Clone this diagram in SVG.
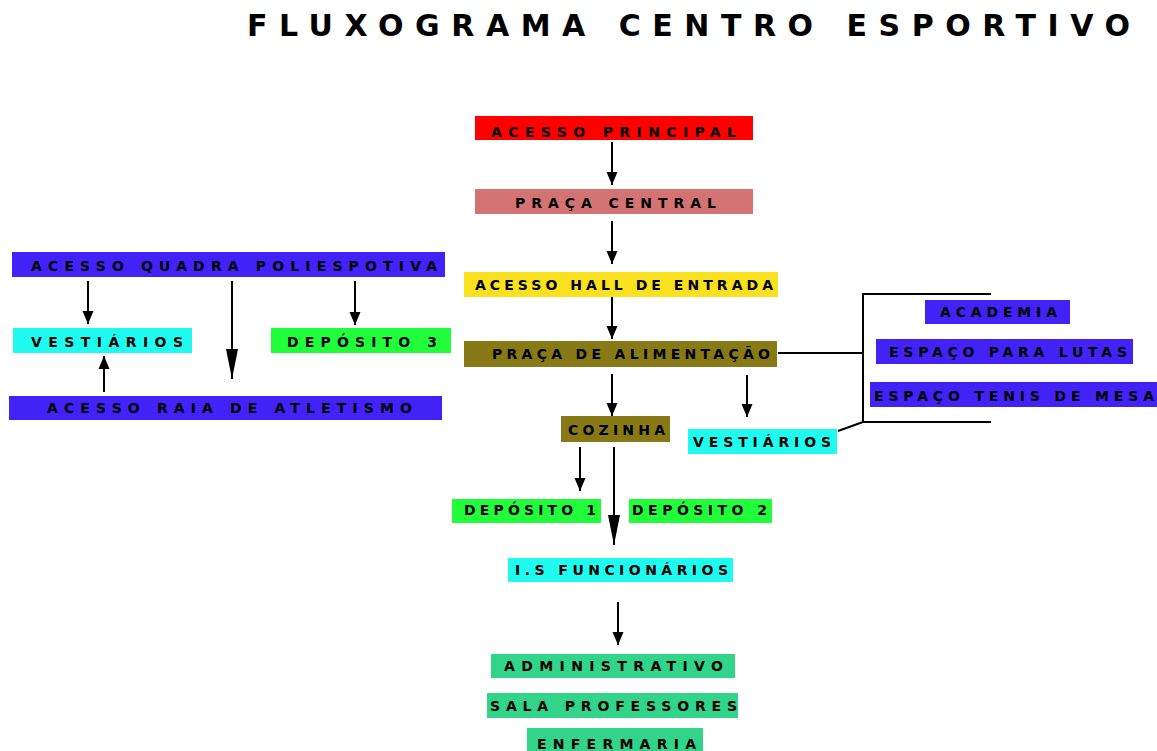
<svg xmlns="http://www.w3.org/2000/svg" width="1157" height="751" viewBox="0 0 1157 751">
<style>
.t{font-family:"DejaVu Sans","Verdana",sans-serif;font-weight:bold;font-size:14px;fill:#000}
.title{font-family:"DejaVu Sans","Verdana",sans-serif;font-weight:bold;font-size:30px;fill:#000}
.c{stroke:#000;stroke-width:2;fill:none}
.red{fill:#ff0000}.rose{fill:#d47373}.yel{fill:#f9e11f}.olv{fill:#877916}
.blu{fill:#4322f8}.cyn{fill:#20fbef}.grn{fill:#22fd3b}.tea{fill:#32d48a}
</style>
<defs>
<marker id="a" markerUnits="userSpaceOnUse" markerWidth="14" markerHeight="12" refX="13" refY="6" orient="auto" viewBox="0 0 14 12">
<path d="M0,0.5 L13,6 L0,11.5 z" fill="#000"/>
</marker>
<marker id="b" markerUnits="userSpaceOnUse" markerWidth="31" markerHeight="14" refX="30" refY="7" orient="auto" viewBox="0 0 31 14">
<path d="M0,1 L30,7 L0,13 z" fill="#000"/>
</marker>
</defs>
<text class="title" x="247" y="36" textLength="883" lengthAdjust="spacing">FLUXOGRAMA CENTRO ESPORTIVO</text>
<g id="connectors">
<path class="c" d="M612,142 V185" marker-end="url(#a)"/>
<path class="c" d="M612,221 V264" marker-end="url(#a)"/>
<path class="c" d="M612,297 V339" marker-end="url(#a)"/>
<path class="c" d="M612,374 V416" marker-end="url(#a)"/>
<path class="c" d="M747,375 V417" marker-end="url(#a)"/>
<path class="c" d="M580,447 V491" marker-end="url(#a)"/>
<path class="c" d="M614,447 V545" marker-end="url(#b)"/>
<path class="c" d="M618,602 V645" marker-end="url(#a)"/>
<path class="c" d="M88,281 V324" marker-end="url(#a)"/>
<path class="c" d="M232,281 V379" marker-end="url(#b)"/>
<path class="c" d="M355,281 V325" marker-end="url(#a)"/>
<path class="c" d="M104,392 V356" marker-end="url(#a)"/>
<path class="c" stroke-width="3" d="M778,353 H863"/>
<path class="c" stroke-width="3" d="M991,294 H863 V422 H991"/>
<path class="c" d="M838,431 L863,422"/>
</g>
<g id="acesso-principal"><rect class="red" x="475" y="116" width="278" height="24"/><text class="t" x="491" y="137" textLength="245" lengthAdjust="spacing">ACESSO PRINCIPAL</text></g>
<g id="praca-central"><rect class="rose" x="475" y="189" width="278" height="25"/><text class="t" x="515" y="208" textLength="201" lengthAdjust="spacing">PRAÇA CENTRAL</text></g>
<g id="acesso-hall"><rect class="yel" x="464" y="272" width="314" height="25"/><text class="t" x="475" y="290" textLength="298" lengthAdjust="spacing">ACESSO HALL DE ENTRADA</text></g>
<g id="praca-alimentacao"><rect class="olv" x="464" y="341" width="313" height="26"/><text class="t" x="492" y="359" textLength="278" lengthAdjust="spacing">PRAÇA DE ALIMENTAÇÃO</text></g>
<g id="academia"><rect class="blu" x="925" y="300" width="145" height="24"/><text class="t" x="940" y="317" textLength="117" lengthAdjust="spacing">ACADEMIA</text></g>
<g id="espaco-lutas"><rect class="blu" x="876" y="339" width="257" height="25"/><text class="t" x="889" y="357" textLength="238" lengthAdjust="spacing">ESPAÇO PARA LUTAS</text></g>
<g id="espaco-tenis"><rect class="blu" x="870" y="382" width="287" height="25"/><text class="t" x="874" y="401" textLength="280" lengthAdjust="spacing">ESPAÇO TENIS DE MESA</text></g>
<g id="vestiarios-direita"><rect class="cyn" x="688" y="429" width="149" height="25"/><text class="t" x="693" y="447" textLength="138" lengthAdjust="spacing">VESTIÁRIOS</text></g>
<g id="cozinha"><rect class="olv" x="561" y="416" width="109" height="26"/><text class="t" x="568" y="435" textLength="97" lengthAdjust="spacing">COZINHA</text></g>
<g id="deposito-1"><rect class="grn" x="452" y="499" width="149" height="24"/><text class="t" x="464" y="515" textLength="132" lengthAdjust="spacing">DEPÓSITO 1</text></g>
<g id="deposito-2"><rect class="grn" x="629" y="499" width="143" height="24"/><text class="t" x="632" y="515" textLength="135" lengthAdjust="spacing">DEPÓSITO 2</text></g>
<g id="is-funcionarios"><rect class="cyn" x="508" y="558" width="225" height="24"/><text class="t" x="515" y="575" textLength="213" lengthAdjust="spacing">I.S FUNCIONÁRIOS</text></g>
<g id="administrativo"><rect class="tea" x="491" y="654" width="244" height="24"/><text class="t" x="504" y="671" textLength="219" lengthAdjust="spacing">ADMINISTRATIVO</text></g>
<g id="sala-professores"><rect class="tea" x="487" y="693" width="251" height="25"/><text class="t" x="490" y="711" textLength="247" lengthAdjust="spacing">SALA PROFESSORES</text></g>
<g id="enfermaria"><rect class="tea" x="527" y="728" width="176" height="23"/><text class="t" x="537" y="749" textLength="159" lengthAdjust="spacing">ENFERMARIA</text></g>
<g id="acesso-quadra"><rect class="blu" x="12" y="252" width="433" height="25"/><text class="t" x="31" y="271" textLength="406" lengthAdjust="spacing">ACESSO QUADRA POLIESPOTIVA</text></g>
<g id="vestiarios-esquerda"><rect class="cyn" x="13" y="328" width="179" height="25"/><text class="t" x="31" y="347" textLength="152" lengthAdjust="spacing">VESTIÁRIOS</text></g>
<g id="deposito-3"><rect class="grn" x="271" y="328" width="180" height="25"/><text class="t" x="287" y="347" textLength="150" lengthAdjust="spacing">DEPÓSITO 3</text></g>
<g id="acesso-raia"><rect class="blu" x="9" y="396" width="433" height="24"/><text class="t" x="47" y="413" textLength="365" lengthAdjust="spacing">ACESSO RAIA DE ATLETISMO</text></g>
</svg>
